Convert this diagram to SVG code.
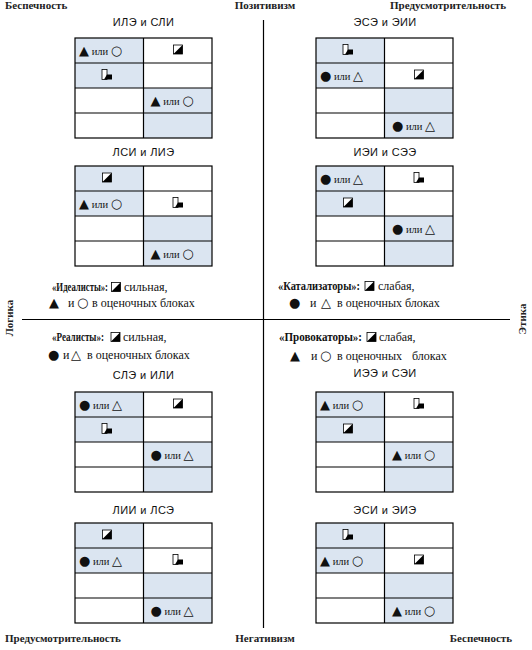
<svg xmlns="http://www.w3.org/2000/svg" xmlns:xlink="http://www.w3.org/1999/xlink" width="532" height="650" viewBox="0 0 532 650">
<style>
.ax{font-family:"Liberation Serif",serif;font-weight:bold;font-size:11px;fill:#222}
.ti{font-family:"Liberation Sans",sans-serif;font-size:11px;letter-spacing:0.4px;fill:#111;text-anchor:middle}
.c{font-family:"Liberation Serif",serif;font-size:10.5px;fill:#111}
.s{font-family:"DejaVu Sans",sans-serif;font-size:13px}
.lg{font-family:"Liberation Serif",serif;font-size:12px;fill:#111}
.b{font-weight:bold;font-size:11.5px}
.sh{fill:#dbe5f1}
.grid{fill:none;stroke:#000;stroke-width:1.2}
.line{stroke:#000;stroke-width:1.2}
</style>
<defs>
<g id="diag"><rect x="-4.5" y="-4.5" width="9" height="9" fill="#fff" stroke="#000" stroke-width="0.8"/><polygon points="-4.5,4.5 4.5,-4.5 4.5,4.5" fill="#000"/></g>
<g id="step"><rect x="-5" y="-5" width="5" height="10" fill="#fff" stroke="#000" stroke-width="0.8"/><polygon points="-3,5 0,0 5,0 5,5" fill="#000"/></g>
<g id="tbl">
<rect x="0" y="0" width="68.5" height="50" class="sh"/>
<rect x="68.5" y="50" width="68.5" height="50" class="sh"/>
<rect x="0" y="0" width="137" height="100" class="grid"/>
<path d="M68.5,0V100M0,25H137M0,50H137M0,75H137" class="grid"/>
</g>
</defs>
<rect width="532" height="650" fill="#fff"/>
<g id="axes">
<line x1="263.5" y1="20" x2="263.5" y2="628" class="line"/>
<line x1="22" y1="319.5" x2="510" y2="319.5" class="line"/>
</g>
<g id="axis-labels">
<text class="ax" x="5" y="9">Беспечность</text>
<text class="ax" x="265" y="9" text-anchor="middle">Позитивизм</text>
<text class="ax" x="506" y="9" text-anchor="end">Предусмотрительность</text>
<text class="ax" x="5" y="642">Предусмотрительность</text>
<text class="ax" x="265" y="642" text-anchor="middle">Негативизм</text>
<text class="ax" x="512" y="642" text-anchor="end">Беспечность</text>
<text class="ax" transform="translate(13,318) rotate(-90)" text-anchor="middle">Логика</text>
<text class="ax" transform="translate(526,319) rotate(-90)" text-anchor="middle">Этика</text>
</g>
<g id="t1">
<text class="ti" x="143.5" y="26">ИЛЭ и СЛИ</text>
<use xlink:href="#tbl" x="75" y="38"/>
<text class="c" x="79" y="54.5"><tspan class="s">▲</tspan> или <tspan class="s">○</tspan></text>
<use xlink:href="#diag" x="178" y="49.5"/>
<use xlink:href="#step" x="107" y="74.5"/>
<text class="c" x="150.5" y="104.5"><tspan class="s">▲</tspan> или <tspan class="s">○</tspan></text>
</g>
<g id="t2">
<text class="ti" x="143.5" y="156">ЛСИ и ЛИЭ</text>
<use xlink:href="#tbl" x="75" y="166"/>
<use xlink:href="#diag" x="107" y="177.5"/>
<text class="c" x="79" y="207.5"><tspan class="s">▲</tspan> или <tspan class="s">○</tspan></text>
<use xlink:href="#step" x="178" y="202.5"/>
<text class="c" x="150.5" y="257.5"><tspan class="s">▲</tspan> или <tspan class="s">○</tspan></text>
</g>
<g id="t3">
<text class="ti" x="385" y="26">ЭСЭ и ЭИИ</text>
<use xlink:href="#tbl" x="316" y="38"/>
<use xlink:href="#step" x="348" y="49.5"/>
<text class="c" x="320" y="79.5"><tspan class="s">●</tspan> или <tspan class="s">△</tspan></text>
<use xlink:href="#diag" x="419" y="74.5"/>
<text class="c" x="392" y="129.5"><tspan class="s">●</tspan> или <tspan class="s">△</tspan></text>
</g>
<g id="t4">
<text class="ti" x="385" y="156">ИЭИ и СЭЭ</text>
<use xlink:href="#tbl" x="316" y="166"/>
<text class="c" x="320" y="182.5"><tspan class="s">●</tspan> или <tspan class="s">△</tspan></text>
<use xlink:href="#step" x="419" y="177.5"/>
<use xlink:href="#diag" x="348" y="202.5"/>
<text class="c" x="392" y="232.5"><tspan class="s">●</tspan> или <tspan class="s">△</tspan></text>
</g>
<g id="legend-idealists">
<text class="lg" x="52" y="291"><tspan class="b" textLength="56" lengthAdjust="spacingAndGlyphs">«Идеалисты»:</tspan></text>
<use xlink:href="#diag" x="116" y="287"/>
<text class="lg" x="124" y="291">сильная,</text>
<text class="lg" y="307"><tspan class="s" x="49">▲</tspan><tspan x="68">и</tspan><tspan class="s" x="77">○</tspan><tspan x="92">в оценочных блоках</tspan></text>
</g>
<g id="legend-catalysts">
<text class="lg" x="278" y="290"><tspan class="b" textLength="82" lengthAdjust="spacingAndGlyphs">«Катализаторы»:</tspan></text>
<use xlink:href="#diag" x="369.5" y="286"/>
<text class="lg" x="378" y="290">слабая,</text>
<text class="lg" y="307"><tspan class="s" x="289">●</tspan><tspan x="310">и</tspan><tspan class="s" x="321">△</tspan><tspan x="337">в оценочных блоках</tspan></text>
</g>
<g id="legend-realists">
<text class="lg" x="52" y="341"><tspan class="b" textLength="52" lengthAdjust="spacingAndGlyphs">«Реалисты»:</tspan></text>
<use xlink:href="#diag" x="115.5" y="337"/>
<text class="lg" x="123" y="341">сильная,</text>
<text class="lg" y="359"><tspan class="s" x="48">●</tspan><tspan x="63">и</tspan><tspan class="s" x="71">△</tspan><tspan x="87">в оценочных блоках</tspan></text>
</g>
<g id="legend-provocateurs">
<text class="lg" x="279" y="341"><tspan class="b" textLength="83" lengthAdjust="spacingAndGlyphs">«Провокаторы»:</tspan></text>
<use xlink:href="#diag" x="371.5" y="337"/>
<text class="lg" x="379" y="341">слабая,</text>
<text class="lg" y="360"><tspan class="s" x="290">▲</tspan><tspan x="311">и</tspan><tspan class="s" x="320">○</tspan><tspan x="337">в оценочных</tspan><tspan x="412">блоках</tspan></text>
</g>
<g id="t5">
<text class="ti" x="143.5" y="379">СЛЭ и ИЛИ</text>
<use xlink:href="#tbl" x="75" y="392"/>
<text class="c" x="79" y="408.5"><tspan class="s">●</tspan> или <tspan class="s">△</tspan></text>
<use xlink:href="#diag" x="178" y="403.5"/>
<use xlink:href="#step" x="107" y="428.5"/>
<text class="c" x="150.5" y="458.5"><tspan class="s">●</tspan> или <tspan class="s">△</tspan></text>
</g>
<g id="t6">
<text class="ti" x="385" y="377">ИЭЭ и СЭИ</text>
<use xlink:href="#tbl" x="316" y="392"/>
<text class="c" x="320" y="408.5"><tspan class="s">▲</tspan> или <tspan class="s">○</tspan></text>
<use xlink:href="#step" x="419" y="403.5"/>
<use xlink:href="#diag" x="348" y="428.5"/>
<text class="c" x="392" y="458.5"><tspan class="s">▲</tspan> или <tspan class="s">○</tspan></text>
</g>
<g id="t7">
<text class="ti" x="143.5" y="514">ЛИИ и ЛСЭ</text>
<use xlink:href="#tbl" x="75" y="523"/>
<use xlink:href="#diag" x="107" y="534.5"/>
<text class="c" x="79" y="564.5"><tspan class="s">●</tspan> или <tspan class="s">△</tspan></text>
<use xlink:href="#step" x="178" y="559.5"/>
<text class="c" x="150.5" y="614.5"><tspan class="s">●</tspan> или <tspan class="s">△</tspan></text>
</g>
<g id="t8">
<text class="ti" x="385" y="514">ЭСИ и ЭИЭ</text>
<use xlink:href="#tbl" x="316" y="523"/>
<use xlink:href="#step" x="348" y="534.5"/>
<text class="c" x="320" y="564.5"><tspan class="s">▲</tspan> или <tspan class="s">○</tspan></text>
<use xlink:href="#diag" x="419" y="559.5"/>
<text class="c" x="392" y="614.5"><tspan class="s">▲</tspan> или <tspan class="s">○</tspan></text>
</g>
</svg>
